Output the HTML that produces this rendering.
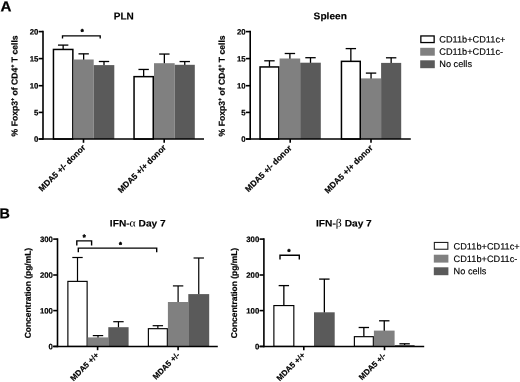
<!DOCTYPE html>
<html><head><meta charset="utf-8"><title>Figure</title>
<style>html,body{margin:0;padding:0;background:#fff}svg{display:block;will-change:transform}text{text-rendering:geometricPrecision}</style>
</head><body>
<svg width="520" height="382" viewBox="0 0 520 382">
<rect width="520" height="382" fill="#fff"/>
<text transform="translate(0.4,11.2) rotate(0.03) scale(1.06,1)" font-family="Liberation Sans, Arial, Helvetica, sans-serif" font-size="14.3" font-weight="bold" stroke="#000" stroke-width="0.25">A</text>
<text transform="translate(-0.45,218.2) rotate(0.03)" font-family="Liberation Sans, Arial, Helvetica, sans-serif" font-size="14.3" font-weight="bold" stroke="#000" stroke-width="0.25">B</text>
<line x1="63.15" y1="45.10" x2="63.15" y2="49.20" stroke="#000" stroke-width="1.3" stroke-linecap="butt"/>
<line x1="57.95" y1="45.10" x2="68.35" y2="45.10" stroke="#000" stroke-width="1.3" stroke-linecap="butt"/>
<line x1="83.65" y1="53.85" x2="83.65" y2="60.00" stroke="#000" stroke-width="1.3" stroke-linecap="butt"/>
<line x1="78.45" y1="53.85" x2="88.85" y2="53.85" stroke="#000" stroke-width="1.3" stroke-linecap="butt"/>
<line x1="104.00" y1="61.50" x2="104.00" y2="65.60" stroke="#000" stroke-width="1.3" stroke-linecap="butt"/>
<line x1="98.80" y1="61.50" x2="109.20" y2="61.50" stroke="#000" stroke-width="1.3" stroke-linecap="butt"/>
<line x1="143.65" y1="69.45" x2="143.65" y2="76.40" stroke="#000" stroke-width="1.3" stroke-linecap="butt"/>
<line x1="138.45" y1="69.45" x2="148.85" y2="69.45" stroke="#000" stroke-width="1.3" stroke-linecap="butt"/>
<line x1="164.35" y1="54.05" x2="164.35" y2="63.70" stroke="#000" stroke-width="1.3" stroke-linecap="butt"/>
<line x1="159.15" y1="54.05" x2="169.55" y2="54.05" stroke="#000" stroke-width="1.3" stroke-linecap="butt"/>
<line x1="184.75" y1="61.55" x2="184.75" y2="65.30" stroke="#000" stroke-width="1.3" stroke-linecap="butt"/>
<line x1="179.55" y1="61.55" x2="189.95" y2="61.55" stroke="#000" stroke-width="1.3" stroke-linecap="butt"/>
<rect x="53.45" y="49.45" width="19.40" height="89.55" fill="#fff" stroke="#000" stroke-width="1.5"/>
<rect x="73.60" y="59.50" width="20.10" height="79.50" fill="#808080"/>
<rect x="93.70" y="65.10" width="20.60" height="73.90" fill="#5a5a5a"/>
<rect x="134.05" y="76.65" width="19.20" height="62.35" fill="#fff" stroke="#000" stroke-width="1.5"/>
<rect x="154.00" y="63.20" width="20.70" height="75.80" fill="#808080"/>
<rect x="174.70" y="64.80" width="20.10" height="74.20" fill="#5a5a5a"/>
<line x1="43.00" y1="30.80" x2="43.00" y2="139.80" stroke="#000" stroke-width="1.6" stroke-linecap="butt"/>
<line x1="38.70" y1="139.00" x2="204.00" y2="139.00" stroke="#000" stroke-width="1.4500000000000002" stroke-linecap="butt"/>
<line x1="38.70" y1="31.60" x2="43.00" y2="31.60" stroke="#000" stroke-width="1.6" stroke-linecap="butt"/>
<text transform="translate(38.40,34.40) rotate(0.03)" text-anchor="end" font-family="Liberation Sans, Arial, Helvetica, sans-serif" font-size="7.8" font-weight="bold" stroke="#000" stroke-width="0.2">20</text>
<line x1="38.70" y1="58.60" x2="43.00" y2="58.60" stroke="#000" stroke-width="1.6" stroke-linecap="butt"/>
<text transform="translate(38.40,61.40) rotate(0.03)" text-anchor="end" font-family="Liberation Sans, Arial, Helvetica, sans-serif" font-size="7.8" font-weight="bold" stroke="#000" stroke-width="0.2">15</text>
<line x1="38.70" y1="85.70" x2="43.00" y2="85.70" stroke="#000" stroke-width="1.6" stroke-linecap="butt"/>
<text transform="translate(38.40,88.50) rotate(0.03)" text-anchor="end" font-family="Liberation Sans, Arial, Helvetica, sans-serif" font-size="7.8" font-weight="bold" stroke="#000" stroke-width="0.2">10</text>
<line x1="38.70" y1="112.40" x2="43.00" y2="112.40" stroke="#000" stroke-width="1.6" stroke-linecap="butt"/>
<text transform="translate(38.40,115.20) rotate(0.03)" text-anchor="end" font-family="Liberation Sans, Arial, Helvetica, sans-serif" font-size="7.8" font-weight="bold" stroke="#000" stroke-width="0.2">5</text>
<line x1="38.70" y1="139.00" x2="43.00" y2="139.00" stroke="#000" stroke-width="1.6" stroke-linecap="butt"/>
<text transform="translate(38.40,141.80) rotate(0.03)" text-anchor="end" font-family="Liberation Sans, Arial, Helvetica, sans-serif" font-size="7.8" font-weight="bold" stroke="#000" stroke-width="0.2">0</text>
<line x1="83.50" y1="139.00" x2="83.50" y2="142.80" stroke="#000" stroke-width="1.6" stroke-linecap="butt"/>
<line x1="164.20" y1="139.00" x2="164.20" y2="142.80" stroke="#000" stroke-width="1.6" stroke-linecap="butt"/>
<polyline points="62.50,38.45 62.50,35.85 100.20,35.85 100.20,38.45" fill="none" stroke="#000" stroke-width="1.35"/>
<text transform="translate(82.30,34.35) rotate(0.03)" text-anchor="middle" font-family="Liberation Sans, Arial, Helvetica, sans-serif" font-size="7.5" font-weight="bold" stroke="#000" stroke-width="0.55" stroke-linejoin="round">*</text>
<text transform="translate(123.80,19.60) rotate(0.03) scale(1.0,1)" text-anchor="middle" font-family="Liberation Sans, Arial, Helvetica, sans-serif" font-size="10" font-weight="bold" stroke="#000" stroke-width="0.15">PLN</text>
<text transform="translate(17.60,85.90) rotate(-89.97)" text-anchor="middle" font-family="Liberation Sans, Arial, Helvetica, sans-serif" font-size="8.6" font-weight="bold" stroke="#000" stroke-width="0.2">% Foxp3<tspan font-size="5.5" dy="-3">+</tspan><tspan dy="3"> of CD4</tspan><tspan font-size="5.5" dy="-3">+</tspan><tspan dy="3"> T cells</tspan></text>
<text transform="translate(86.00,148.10) rotate(-45)" text-anchor="end" font-family="Liberation Sans, Arial, Helvetica, sans-serif" font-size="8.4" font-weight="bold" stroke="#000" stroke-width="0.2">MDA5 +/- donor</text>
<text transform="translate(166.60,148.10) rotate(-45)" text-anchor="end" font-family="Liberation Sans, Arial, Helvetica, sans-serif" font-size="8.4" font-weight="bold" stroke="#000" stroke-width="0.2">MDA5 +/+ donor</text>
<line x1="269.45" y1="60.80" x2="269.45" y2="66.70" stroke="#000" stroke-width="1.3" stroke-linecap="butt"/>
<line x1="264.25" y1="60.80" x2="274.65" y2="60.80" stroke="#000" stroke-width="1.3" stroke-linecap="butt"/>
<line x1="289.90" y1="53.50" x2="289.90" y2="59.00" stroke="#000" stroke-width="1.3" stroke-linecap="butt"/>
<line x1="284.70" y1="53.50" x2="295.10" y2="53.50" stroke="#000" stroke-width="1.3" stroke-linecap="butt"/>
<line x1="310.50" y1="57.70" x2="310.50" y2="63.20" stroke="#000" stroke-width="1.3" stroke-linecap="butt"/>
<line x1="305.30" y1="57.70" x2="315.70" y2="57.70" stroke="#000" stroke-width="1.3" stroke-linecap="butt"/>
<line x1="350.85" y1="48.60" x2="350.85" y2="61.10" stroke="#000" stroke-width="1.3" stroke-linecap="butt"/>
<line x1="345.65" y1="48.60" x2="356.05" y2="48.60" stroke="#000" stroke-width="1.3" stroke-linecap="butt"/>
<line x1="371.05" y1="73.10" x2="371.05" y2="78.90" stroke="#000" stroke-width="1.3" stroke-linecap="butt"/>
<line x1="365.85" y1="73.10" x2="376.25" y2="73.10" stroke="#000" stroke-width="1.3" stroke-linecap="butt"/>
<line x1="391.15" y1="57.80" x2="391.15" y2="63.40" stroke="#000" stroke-width="1.3" stroke-linecap="butt"/>
<line x1="385.95" y1="57.80" x2="396.35" y2="57.80" stroke="#000" stroke-width="1.3" stroke-linecap="butt"/>
<rect x="260.05" y="66.95" width="18.80" height="72.05" fill="#fff" stroke="#000" stroke-width="1.5"/>
<rect x="279.60" y="58.50" width="20.60" height="80.50" fill="#808080"/>
<rect x="300.20" y="62.70" width="20.60" height="76.30" fill="#5a5a5a"/>
<rect x="341.45" y="61.35" width="18.80" height="77.65" fill="#fff" stroke="#000" stroke-width="1.5"/>
<rect x="361.00" y="78.40" width="20.10" height="60.60" fill="#808080"/>
<rect x="381.10" y="62.90" width="20.10" height="76.10" fill="#5a5a5a"/>
<line x1="250.20" y1="30.80" x2="250.20" y2="139.80" stroke="#000" stroke-width="1.6" stroke-linecap="butt"/>
<line x1="245.90" y1="139.00" x2="410.80" y2="139.00" stroke="#000" stroke-width="1.4500000000000002" stroke-linecap="butt"/>
<line x1="245.90" y1="31.60" x2="250.20" y2="31.60" stroke="#000" stroke-width="1.6" stroke-linecap="butt"/>
<text transform="translate(245.60,34.40) rotate(0.03)" text-anchor="end" font-family="Liberation Sans, Arial, Helvetica, sans-serif" font-size="7.8" font-weight="bold" stroke="#000" stroke-width="0.2">20</text>
<line x1="245.90" y1="58.60" x2="250.20" y2="58.60" stroke="#000" stroke-width="1.6" stroke-linecap="butt"/>
<text transform="translate(245.60,61.40) rotate(0.03)" text-anchor="end" font-family="Liberation Sans, Arial, Helvetica, sans-serif" font-size="7.8" font-weight="bold" stroke="#000" stroke-width="0.2">15</text>
<line x1="245.90" y1="85.70" x2="250.20" y2="85.70" stroke="#000" stroke-width="1.6" stroke-linecap="butt"/>
<text transform="translate(245.60,88.50) rotate(0.03)" text-anchor="end" font-family="Liberation Sans, Arial, Helvetica, sans-serif" font-size="7.8" font-weight="bold" stroke="#000" stroke-width="0.2">10</text>
<line x1="245.90" y1="112.40" x2="250.20" y2="112.40" stroke="#000" stroke-width="1.6" stroke-linecap="butt"/>
<text transform="translate(245.60,115.20) rotate(0.03)" text-anchor="end" font-family="Liberation Sans, Arial, Helvetica, sans-serif" font-size="7.8" font-weight="bold" stroke="#000" stroke-width="0.2">5</text>
<line x1="245.90" y1="139.00" x2="250.20" y2="139.00" stroke="#000" stroke-width="1.6" stroke-linecap="butt"/>
<text transform="translate(245.60,141.80) rotate(0.03)" text-anchor="end" font-family="Liberation Sans, Arial, Helvetica, sans-serif" font-size="7.8" font-weight="bold" stroke="#000" stroke-width="0.2">0</text>
<line x1="290.20" y1="139.00" x2="290.20" y2="142.80" stroke="#000" stroke-width="1.6" stroke-linecap="butt"/>
<line x1="371.00" y1="139.00" x2="371.00" y2="142.80" stroke="#000" stroke-width="1.6" stroke-linecap="butt"/>
<text transform="translate(330.30,19.20) rotate(0.03) scale(1.06,1)" text-anchor="middle" font-family="Liberation Sans, Arial, Helvetica, sans-serif" font-size="9.6" font-weight="bold" stroke="#000" stroke-width="0.15">Spleen</text>
<text transform="translate(224.80,85.90) rotate(-89.97)" text-anchor="middle" font-family="Liberation Sans, Arial, Helvetica, sans-serif" font-size="8.6" font-weight="bold" stroke="#000" stroke-width="0.2">% Foxp3<tspan font-size="5.5" dy="-3">+</tspan><tspan dy="3"> of CD4</tspan><tspan font-size="5.5" dy="-3">+</tspan><tspan dy="3"> T cells</tspan></text>
<text transform="translate(292.40,148.60) rotate(-45)" text-anchor="end" font-family="Liberation Sans, Arial, Helvetica, sans-serif" font-size="8.4" font-weight="bold" stroke="#000" stroke-width="0.2">MDA5 +/- donor</text>
<text transform="translate(373.30,148.50) rotate(-45)" text-anchor="end" font-family="Liberation Sans, Arial, Helvetica, sans-serif" font-size="8.4" font-weight="bold" stroke="#000" stroke-width="0.2">MDA5 +/+ donor</text>
<rect x="420.85" y="35.95" width="13.30" height="6.60" fill="#fff" stroke="#000" stroke-width="1.3"/>
<rect x="420.20" y="47.80" width="14.6" height="7.9" fill="#808080"/>
<rect x="420.20" y="60.30" width="14.6" height="7.9" fill="#5a5a5a"/>
<text transform="translate(439.30,42.50) rotate(0.03)" font-family="Liberation Sans, Arial, Helvetica, sans-serif" font-size="9.2" fill="#000" stroke="#000" stroke-width="0.15">CD11b+CD11c+</text>
<text transform="translate(439.30,54.80) rotate(0.03)" font-family="Liberation Sans, Arial, Helvetica, sans-serif" font-size="9.2" fill="#000" stroke="#000" stroke-width="0.15">CD11b+CD11c-</text>
<text transform="translate(439.30,67.00) rotate(0.03)" font-family="Liberation Sans, Arial, Helvetica, sans-serif" font-size="9.2" fill="#000" stroke="#000" stroke-width="0.15">No cells</text>
<line x1="77.50" y1="257.50" x2="77.50" y2="281.30" stroke="#000" stroke-width="1.2" stroke-linecap="butt"/>
<line x1="72.30" y1="257.50" x2="82.70" y2="257.50" stroke="#000" stroke-width="1.2" stroke-linecap="butt"/>
<line x1="98.00" y1="335.60" x2="98.00" y2="337.90" stroke="#000" stroke-width="1.2" stroke-linecap="butt"/>
<line x1="92.80" y1="335.60" x2="103.20" y2="335.60" stroke="#000" stroke-width="1.2" stroke-linecap="butt"/>
<line x1="118.45" y1="321.70" x2="118.45" y2="327.70" stroke="#000" stroke-width="1.2" stroke-linecap="butt"/>
<line x1="113.25" y1="321.70" x2="123.65" y2="321.70" stroke="#000" stroke-width="1.2" stroke-linecap="butt"/>
<line x1="157.85" y1="325.70" x2="157.85" y2="328.60" stroke="#000" stroke-width="1.2" stroke-linecap="butt"/>
<line x1="152.65" y1="325.70" x2="163.05" y2="325.70" stroke="#000" stroke-width="1.2" stroke-linecap="butt"/>
<line x1="178.10" y1="285.90" x2="178.10" y2="302.50" stroke="#000" stroke-width="1.2" stroke-linecap="butt"/>
<line x1="172.90" y1="285.90" x2="183.30" y2="285.90" stroke="#000" stroke-width="1.2" stroke-linecap="butt"/>
<line x1="198.75" y1="258.00" x2="198.75" y2="294.60" stroke="#000" stroke-width="1.2" stroke-linecap="butt"/>
<line x1="193.55" y1="258.00" x2="203.95" y2="258.00" stroke="#000" stroke-width="1.2" stroke-linecap="butt"/>
<rect x="67.88" y="281.38" width="19.25" height="65.02" fill="#fff" stroke="#000" stroke-width="1.15"/>
<rect x="87.70" y="337.40" width="20.60" height="9.00" fill="#808080"/>
<rect x="108.30" y="327.20" width="20.30" height="19.20" fill="#5a5a5a"/>
<rect x="148.38" y="328.68" width="18.95" height="17.72" fill="#fff" stroke="#000" stroke-width="1.15"/>
<rect x="167.90" y="302.00" width="20.40" height="44.40" fill="#808080"/>
<rect x="188.30" y="294.10" width="20.90" height="52.30" fill="#5a5a5a"/>
<line x1="57.50" y1="238.30" x2="57.50" y2="347.20" stroke="#000" stroke-width="1.6" stroke-linecap="butt"/>
<line x1="53.20" y1="346.40" x2="217.80" y2="346.40" stroke="#000" stroke-width="1.4500000000000002" stroke-linecap="butt"/>
<line x1="53.20" y1="239.10" x2="57.50" y2="239.10" stroke="#000" stroke-width="1.6" stroke-linecap="butt"/>
<text transform="translate(52.90,241.90) rotate(0.03)" text-anchor="end" font-family="Liberation Sans, Arial, Helvetica, sans-serif" font-size="7.8" font-weight="bold" stroke="#000" stroke-width="0.2">300</text>
<line x1="53.20" y1="275.00" x2="57.50" y2="275.00" stroke="#000" stroke-width="1.6" stroke-linecap="butt"/>
<text transform="translate(52.90,277.80) rotate(0.03)" text-anchor="end" font-family="Liberation Sans, Arial, Helvetica, sans-serif" font-size="7.8" font-weight="bold" stroke="#000" stroke-width="0.2">200</text>
<line x1="53.20" y1="310.60" x2="57.50" y2="310.60" stroke="#000" stroke-width="1.6" stroke-linecap="butt"/>
<text transform="translate(52.90,313.40) rotate(0.03)" text-anchor="end" font-family="Liberation Sans, Arial, Helvetica, sans-serif" font-size="7.8" font-weight="bold" stroke="#000" stroke-width="0.2">100</text>
<line x1="53.20" y1="346.40" x2="57.50" y2="346.40" stroke="#000" stroke-width="1.6" stroke-linecap="butt"/>
<text transform="translate(52.90,349.20) rotate(0.03)" text-anchor="end" font-family="Liberation Sans, Arial, Helvetica, sans-serif" font-size="7.8" font-weight="bold" stroke="#000" stroke-width="0.2">0</text>
<line x1="97.60" y1="346.40" x2="97.60" y2="350.20" stroke="#000" stroke-width="1.6" stroke-linecap="butt"/>
<line x1="178.10" y1="346.40" x2="178.10" y2="350.20" stroke="#000" stroke-width="1.6" stroke-linecap="butt"/>
<polyline points="76.80,245.50 76.80,240.90 91.60,240.90 91.60,245.50" fill="none" stroke="#000" stroke-width="1.4"/>
<text transform="translate(84.10,239.75) rotate(0.03)" text-anchor="middle" font-family="Liberation Sans, Arial, Helvetica, sans-serif" font-size="7.5" font-weight="bold" stroke="#000" stroke-width="0.55" stroke-linejoin="round">*</text>
<polyline points="78.30,252.30 78.30,248.10 156.70,248.10 156.70,252.30" fill="none" stroke="#000" stroke-width="1.4"/>
<text transform="translate(120.40,247.35) rotate(0.03)" text-anchor="middle" font-family="Liberation Sans, Arial, Helvetica, sans-serif" font-size="7.5" font-weight="bold" stroke="#000" stroke-width="0.55" stroke-linejoin="round">*</text>
<text transform="translate(137.80,226.40) rotate(0.03) scale(1.07,1)" text-anchor="middle" font-family="Liberation Sans, Arial, Helvetica, sans-serif" font-size="9.5" font-weight="bold" stroke="#000" stroke-width="0.15">IFN-<tspan font-family="Liberation Serif, serif" font-weight="normal" font-size="11" stroke="none">α</tspan> Day 7</text>
<text transform="translate(30.80,293.10) rotate(-89.97)" text-anchor="middle" font-family="Liberation Sans, Arial, Helvetica, sans-serif" font-size="8.45" font-weight="bold" stroke="#000" stroke-width="0.2">Concentration (pg/mL)</text>
<text transform="translate(99.40,355.60) rotate(-45)" text-anchor="end" font-family="Liberation Sans, Arial, Helvetica, sans-serif" font-size="8.0" font-weight="bold" stroke="#000" stroke-width="0.2">MDA5 +/+</text>
<text transform="translate(180.30,355.60) rotate(-45)" text-anchor="end" font-family="Liberation Sans, Arial, Helvetica, sans-serif" font-size="8.0" font-weight="bold" stroke="#000" stroke-width="0.2">MDA5 +/-</text>
<line x1="283.85" y1="285.60" x2="283.85" y2="305.50" stroke="#000" stroke-width="1.3" stroke-linecap="butt"/>
<line x1="278.65" y1="285.60" x2="289.05" y2="285.60" stroke="#000" stroke-width="1.3" stroke-linecap="butt"/>
<line x1="324.35" y1="279.10" x2="324.35" y2="312.80" stroke="#000" stroke-width="1.3" stroke-linecap="butt"/>
<line x1="319.15" y1="279.10" x2="329.55" y2="279.10" stroke="#000" stroke-width="1.3" stroke-linecap="butt"/>
<line x1="363.85" y1="327.50" x2="363.85" y2="336.60" stroke="#000" stroke-width="1.3" stroke-linecap="butt"/>
<line x1="358.65" y1="327.50" x2="369.05" y2="327.50" stroke="#000" stroke-width="1.3" stroke-linecap="butt"/>
<line x1="384.25" y1="320.80" x2="384.25" y2="331.10" stroke="#000" stroke-width="1.3" stroke-linecap="butt"/>
<line x1="379.05" y1="320.80" x2="389.45" y2="320.80" stroke="#000" stroke-width="1.3" stroke-linecap="butt"/>
<line x1="404.60" y1="343.80" x2="404.60" y2="345.50" stroke="#000" stroke-width="1.3" stroke-linecap="butt"/>
<line x1="399.40" y1="343.80" x2="409.80" y2="343.80" stroke="#000" stroke-width="1.3" stroke-linecap="butt"/>
<rect x="273.88" y="305.57" width="19.95" height="40.82" fill="#fff" stroke="#000" stroke-width="1.15"/>
<rect x="314.00" y="312.30" width="20.70" height="34.10" fill="#5a5a5a"/>
<rect x="354.38" y="336.68" width="18.95" height="9.72" fill="#fff" stroke="#000" stroke-width="1.15"/>
<rect x="373.90" y="330.60" width="20.70" height="15.80" fill="#808080"/>
<rect x="394.60" y="345.00" width="20.00" height="1.40" fill="#5a5a5a"/>
<line x1="263.90" y1="238.30" x2="263.90" y2="347.20" stroke="#000" stroke-width="1.6" stroke-linecap="butt"/>
<line x1="259.60" y1="346.40" x2="424.20" y2="346.40" stroke="#000" stroke-width="1.4500000000000002" stroke-linecap="butt"/>
<line x1="259.60" y1="239.10" x2="263.90" y2="239.10" stroke="#000" stroke-width="1.6" stroke-linecap="butt"/>
<text transform="translate(259.30,241.90) rotate(0.03)" text-anchor="end" font-family="Liberation Sans, Arial, Helvetica, sans-serif" font-size="7.8" font-weight="bold" stroke="#000" stroke-width="0.2">300</text>
<line x1="259.60" y1="275.00" x2="263.90" y2="275.00" stroke="#000" stroke-width="1.6" stroke-linecap="butt"/>
<text transform="translate(259.30,277.80) rotate(0.03)" text-anchor="end" font-family="Liberation Sans, Arial, Helvetica, sans-serif" font-size="7.8" font-weight="bold" stroke="#000" stroke-width="0.2">200</text>
<line x1="259.60" y1="310.60" x2="263.90" y2="310.60" stroke="#000" stroke-width="1.6" stroke-linecap="butt"/>
<text transform="translate(259.30,313.40) rotate(0.03)" text-anchor="end" font-family="Liberation Sans, Arial, Helvetica, sans-serif" font-size="7.8" font-weight="bold" stroke="#000" stroke-width="0.2">100</text>
<line x1="259.60" y1="346.40" x2="263.90" y2="346.40" stroke="#000" stroke-width="1.6" stroke-linecap="butt"/>
<text transform="translate(259.30,349.20) rotate(0.03)" text-anchor="end" font-family="Liberation Sans, Arial, Helvetica, sans-serif" font-size="7.8" font-weight="bold" stroke="#000" stroke-width="0.2">0</text>
<line x1="303.80" y1="346.40" x2="303.80" y2="350.20" stroke="#000" stroke-width="1.6" stroke-linecap="butt"/>
<line x1="384.50" y1="346.40" x2="384.50" y2="350.20" stroke="#000" stroke-width="1.6" stroke-linecap="butt"/>
<polyline points="280.00,259.50 280.00,255.30 299.30,255.30 299.30,259.50" fill="none" stroke="#000" stroke-width="1.4"/>
<text transform="translate(289.00,254.25) rotate(0.03)" text-anchor="middle" font-family="Liberation Sans, Arial, Helvetica, sans-serif" font-size="7.5" font-weight="bold" stroke="#000" stroke-width="0.55" stroke-linejoin="round">*</text>
<text transform="translate(343.90,226.40) rotate(0.03) scale(1.07,1)" text-anchor="middle" font-family="Liberation Sans, Arial, Helvetica, sans-serif" font-size="9.5" font-weight="bold" stroke="#000" stroke-width="0.15">IFN-<tspan font-family="Liberation Serif, serif" font-weight="normal" font-size="11" stroke="none">β</tspan> Day 7</text>
<text transform="translate(237.00,293.10) rotate(-89.97)" text-anchor="middle" font-family="Liberation Sans, Arial, Helvetica, sans-serif" font-size="8.45" font-weight="bold" stroke="#000" stroke-width="0.2">Concentration (pg/mL)</text>
<text transform="translate(305.60,355.70) rotate(-45)" text-anchor="end" font-family="Liberation Sans, Arial, Helvetica, sans-serif" font-size="8.0" font-weight="bold" stroke="#000" stroke-width="0.2">MDA5 +/+</text>
<text transform="translate(386.40,356.20) rotate(-45)" text-anchor="end" font-family="Liberation Sans, Arial, Helvetica, sans-serif" font-size="8.0" font-weight="bold" stroke="#000" stroke-width="0.2">MDA5 +/-</text>
<rect x="434.35" y="242.45" width="13.50" height="6.80" fill="#fff" stroke="#222" stroke-width="1.1"/>
<rect x="433.80" y="254.70" width="14.6" height="7.9" fill="#808080"/>
<rect x="433.80" y="267.30" width="14.6" height="7.9" fill="#5a5a5a"/>
<text transform="translate(453.60,249.50) rotate(0.03)" font-family="Liberation Sans, Arial, Helvetica, sans-serif" font-size="9.2" fill="#000" stroke="#000" stroke-width="0.15">CD11b+CD11c+</text>
<text transform="translate(453.60,262.00) rotate(0.03)" font-family="Liberation Sans, Arial, Helvetica, sans-serif" font-size="9.2" fill="#000" stroke="#000" stroke-width="0.15">CD11b+CD11c-</text>
<text transform="translate(453.60,274.30) rotate(0.03)" font-family="Liberation Sans, Arial, Helvetica, sans-serif" font-size="9.2" fill="#000" stroke="#000" stroke-width="0.15">No cells</text>
</svg>
</body></html>
